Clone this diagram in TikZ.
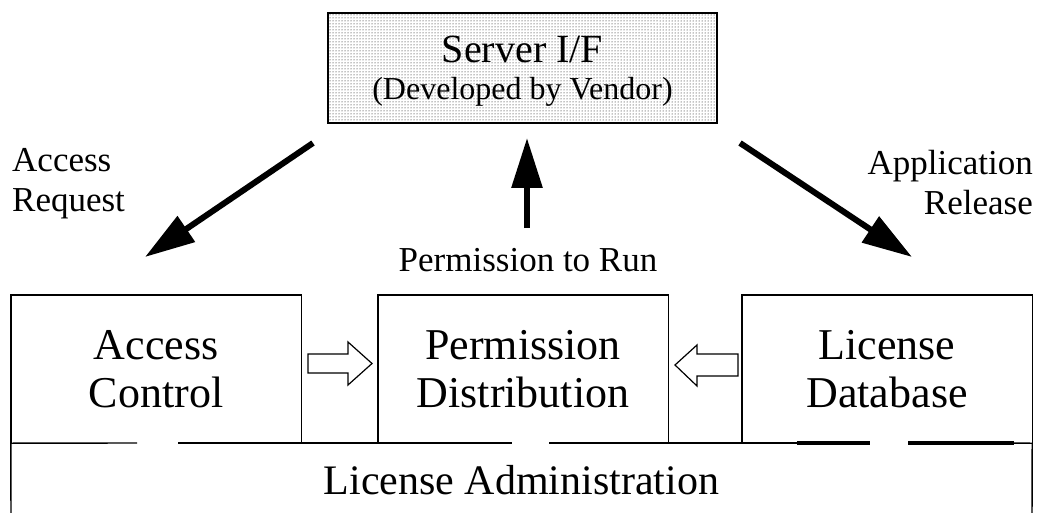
\documentclass[tikz,border=0pt]{standalone}
\usepackage{fontspec}
\setmainfont{Liberation Serif}
\usetikzlibrary{arrows.meta,patterns,calc}
\begin{document}
\begin{tikzpicture}[x=1pt,y=-1pt,
  box/.style={minimum width=290pt,minimum height=148pt,inner sep=0pt,align=center,
              font=\fontsize{44}{48}\selectfont},
  edge/.style={line width=1.4pt},
  thickedge/.style={line width=3.5pt},
  bigarrow/.style={line width=6pt,-{Triangle[length=50pt,width=30pt]}},
  hollow/.style={line width=1.2pt,fill=white,line join=miter},
  lbl/.style={font=\fontsize{35}{40}\selectfont,inner sep=0pt}]
\useasboundingbox (0,0) rectangle (1038,513);

% vendor server interface
\node[draw,line width=1.4pt,fill=black!12,pattern=dots,minimum width=389pt,minimum height=110pt,inner sep=0pt]
  (srv) at (522.5,68) {};
\node[inner sep=0pt,font=\fontsize{40}{44}\selectfont] (srvtitle) at (522.5,49) {Server I/F};
\node[inner sep=0pt,font=\fontsize{32}{40}\selectfont] (srvnote) at (522.5,92) {(Developed by Vendor)};

% the three modules
\node[box] (ac) at (156,369) {Access\\Control};
\node[box] (pd) at (523,369) {Permission\\Distribution};
\node[box] (db) at (887,369) {License\\Database};
\draw[edge] (ac.south west) |- (ac.north east) -- (ac.south east);
\draw[edge] (pd.south west) |- (pd.north east) -- (pd.south east);
\draw[edge] (db.south west) |- (db.north east) -- (db.south east);

% administration layer underneath
\node[inner sep=0pt,font=\fontsize{42}{48}\selectfont] (adm) at (521.5,480) {License Administration};
\draw[edge] (11,520) -- (ac.south west) -- (137,443);
\draw[edge] (178,443) -- (512,443);
\draw[edge] (549,443) -- (870,443);
\draw[edge] (908,443) -- (db.south east) -- (1032,520);
\draw[thickedge] (797,443) -- (870,443);
\draw[thickedge] (908,443) -- (1014,443);

% flows between the server interface and the modules
\coordinate (arLs) at (313,143);
\coordinate (arLe) at (145,257);
\coordinate (arMs) at (527,228);
\coordinate (arMe) at (527,138);
\coordinate (arRs) at (740,143);
\coordinate (arRe) at (912,257);
\draw[bigarrow] (arLs) -- (arLe);
\draw[bigarrow] (arMs) -- (arMe);
\draw[bigarrow] (arRs) -- (arRe);

\node[lbl,align=left,anchor=west] (lreq) at (12,184) {Access\\Request};
\node[lbl,align=right,anchor=east] (lrel) at (1033,183) {Application\\Release};
\node[lbl] (lrun) at (528,260) {Permission to Run};

% hollow arrows into permission distribution
\draw[hollow] (308,354) -- (348,354) -- (348,342) -- (372,363.5) -- (348,385) -- (348,373) -- (308,373) -- cycle;
\draw[hollow] (675,365) -- (697,345) -- (697,354) -- (738,354) -- (738,376) -- (697,376) -- (697,386) -- cycle;
\end{tikzpicture}
\end{document}
